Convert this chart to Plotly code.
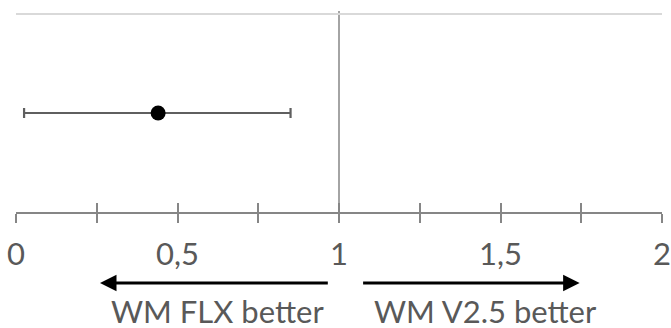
import plotly.graph_objects as go

# Data
estimate = [0.44]
ci_lower = [0.025]
ci_upper = [0.85]
row_pos = [1]
reference_value = 1
tick_values = [0, 0.25, 0.5, 0.75, 1, 1.25, 1.5, 1.75, 2]
tick_labels = ["0", "", "0,5", "", "1", "", "1,5", "", "2"]
grid_values = [2]
left_label = "WM FLX better"
right_label = "WM V2.5 better"
left_arrow = (0.97, 0.26)   # (tail, head) in data units
right_arrow = (1.07, 1.745)
left_label_x = 0.624
right_label_x = 1.452

AX = "#868686"
TXT = "#595959"
FONT = "Lato"

fig = go.Figure()
fig.add_trace(go.Scatter(
    x=estimate, y=row_pos, mode="markers",
    marker=dict(color="black", size=15),
    error_x=dict(type="data", symmetric=False,
                 array=[u - e for u, e in zip(ci_upper, estimate)],
                 arrayminus=[e - l for e, l in zip(estimate, ci_lower)],
                 color="#5f5f5f", thickness=2.2, width=5),
    showlegend=False, hoverinfo="skip"))
# invisible trace for the overlay axis (inner half of crossing ticks)
fig.add_trace(go.Scatter(x=[reference_value], y=row_pos, xaxis="x2", mode="markers",
                         marker=dict(opacity=0), showlegend=False, hoverinfo="skip"))

fig.add_shape(type="line", xref="x", yref="paper", x0=reference_value, x1=reference_value,
              y0=0, y1=1, line=dict(color=AX, width=1.5), layer="below")

fig.add_annotation(x=left_arrow[1], ax=left_arrow[0], xref="x", axref="x",
                   y=-0.353, yref="paper", ay=0, ayref="pixel",
                   showarrow=True, arrowhead=2, arrowsize=1.1, arrowwidth=3,
                   arrowcolor="black", text="")
fig.add_annotation(x=right_arrow[1], ax=right_arrow[0], xref="x", axref="x",
                   y=-0.353, yref="paper", ay=0, ayref="pixel",
                   showarrow=True, arrowhead=2, arrowsize=1.1, arrowwidth=3,
                   arrowcolor="black", text="")
fig.add_annotation(x=left_label_x, xref="x", y=-0.495, yref="paper", text=left_label,
                   showarrow=False, font=dict(family=FONT, size=31, color=TXT),
                   xanchor="center", yanchor="middle")
fig.add_annotation(x=right_label_x, xref="x", y=-0.495, yref="paper", text=right_label,
                   showarrow=False, font=dict(family=FONT, size=31, color=TXT),
                   xanchor="center", yanchor="middle")

axis_common = dict(range=[0, 2], tickvals=tick_values, ticklen=9, tickwidth=1.5,
                   tickcolor=AX, showgrid=False, zeroline=False, fixedrange=True,
                   automargin=False)
fig.update_layout(
    width=671, height=328,
    margin=dict(l=16, r=9, t=11, b=116),
    paper_bgcolor="white", plot_bgcolor="white",
    xaxis=dict(**axis_common, ticktext=tick_labels, ticks="outside",
               showline=True, linecolor=AX, linewidth=1.5, ticklabelstandoff=5,
               tickfont=dict(family=FONT, size=31, color=TXT)),
    xaxis2=dict(**axis_common, overlaying="x", anchor="y", side="bottom",
                ticks="inside", showticklabels=False, showline=False),
    yaxis=dict(range=[0, 2.0303], tickvals=grid_values, showticklabels=False, ticks="",
               showgrid=True, gridcolor="#d9d9d9", gridwidth=1.5, automargin=False,
               zeroline=False, showline=False, fixedrange=True),
)
fig.write_html("out.html", config={"displayModeBar": False},
               post_script="document.body.style.margin='0';document.body.style.overflow='hidden';")
